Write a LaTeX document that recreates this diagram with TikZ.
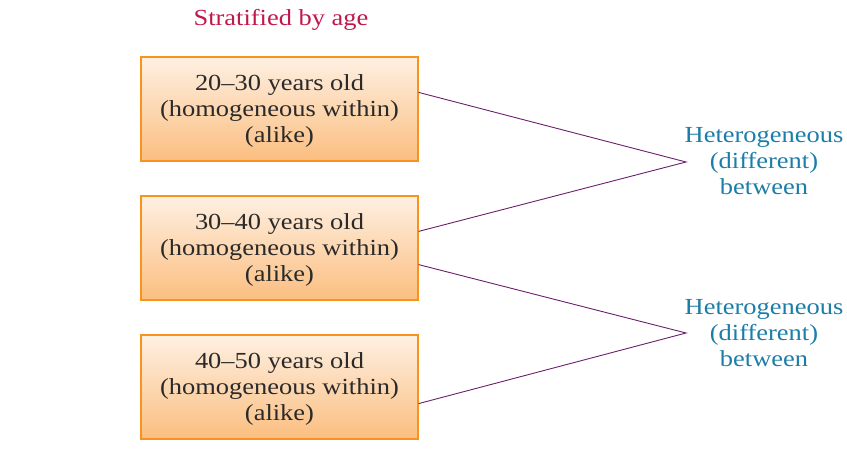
\documentclass[tikz,border=0pt]{standalone}
\usepackage{fontspec}
\setmainfont{Liberation Serif}[FakeStretch=1.15]
\usetikzlibrary{calc}
\definecolor{boxborder}{HTML}{F7941D}
\definecolor{boxtop}{HTML}{FEF0E2}
\definecolor{boxbot}{HTML}{FBBE80}
\definecolor{linecol}{HTML}{6A1F6E}
\definecolor{titlecol}{HTML}{C1184B}
\definecolor{hetcol}{HTML}{1B7DA8}
\definecolor{textcol}{HTML}{2A2A2A}
\begin{document}
\begin{tikzpicture}[x=1pt,y=-1pt,
  agebox/.style={draw=boxborder, line width=1.2pt, top color=boxtop, bottom color=boxbot,
    minimum width=277pt, minimum height=104pt, inner sep=0pt, align=center,
    text=textcol, font=\fontsize{23}{26}\selectfont},
  agetext/.style={align=center, inner sep=0pt, text=textcol, font=\fontsize{23}{26}\selectfont},
  hetlabel/.style={text=hetcol, align=center, inner sep=0pt, font=\fontsize{23}{26}\selectfont},
  conn/.style={draw=linecol, line width=0.9pt}]
\useasboundingbox (0,0) rectangle (847,452);
\node[text=titlecol, font=\fontsize{23}{26}\selectfont, inner sep=0pt] (title) at (281,20) {Stratified by age};
\node[agebox] (b1) at (279.5,109) {};
\node[agebox] (b2) at (279.5,248) {};
\node[agebox] (b3) at (279.5,387) {};
\node[agetext] (t1) at ($(b1.center)+(0,2)$) {20–30 years old\\(homogeneous within)\\(alike)};
\node[agetext] (t2) at ($(b2.center)+(0,2)$) {30–40 years old\\(homogeneous within)\\(alike)};
\node[agetext] (t3) at ($(b3.center)+(0,2)$) {40–50 years old\\(homogeneous within)\\(alike)};
\node[hetlabel] (h1) at (764,161) {Heterogeneous\\(different)\\between};
\node[hetlabel] (h2) at (764,333) {Heterogeneous\\(different)\\between};
\coordinate (p1) at (686,162);
\coordinate (p2) at (686,333);
\draw[conn] ($(b1.north east)+(0,36)$) -- (p1) -- ($(b2.north east)+(0,36)$);
\draw[conn] ($(b2.south east)+(0,-36)$) -- (p2) -- ($(b3.south east)+(0,-36)$);
\end{tikzpicture}
\end{document}
